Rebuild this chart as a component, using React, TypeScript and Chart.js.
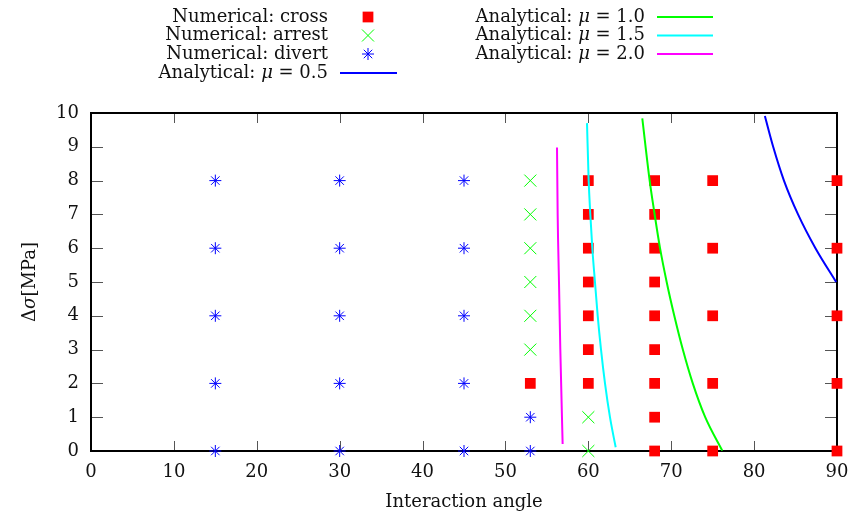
import React, { useEffect, useRef } from 'react';
import { Chart, registerables } from 'chart.js';
import { drawPoint } from 'chart.js/helpers';

Chart.register(...registerables);

const FONT = '"DejaVu Serif", "Liberation Serif", serif';
const FS = 18;

// Tick values
const xTicks = [0, 10, 20, 30, 40, 50, 60, 70, 80, 90];
const yTicks = [0, 1, 2, 3, 4, 5, 6, 7, 8, 9, 10];

// Numerical results: [interaction angle, delta sigma]
const crossPts: number[][] = [
  [53, 2],
  [60, 2], [60, 3], [60, 4], [60, 5], [60, 6], [60, 7], [60, 8],
  [68, 0], [68, 1], [68, 2], [68, 3], [68, 4], [68, 5], [68, 6], [68, 7], [68, 8],
  [75, 0], [75, 2], [75, 4], [75, 6], [75, 8],
  [90, 0], [90, 2], [90, 4], [90, 6], [90, 8],
];
const arrestPts: number[][] = [
  [53, 3], [53, 4], [53, 5], [53, 6], [53, 7], [53, 8],
  [60, 0], [60, 1],
];
const divertPts: number[][] = [
  [15, 0], [15, 2], [15, 4], [15, 6], [15, 8],
  [30, 0], [30, 2], [30, 4], [30, 6], [30, 8],
  [45, 0], [45, 2], [45, 4], [45, 6], [45, 8],
  [53, 0], [53, 1],
];

// Analytical curves
const mu05: number[][] = [[81.3, 9.91], [82.3, 9], [83.6, 8], [85.3, 7], [87.4, 6], [89.9, 5]];
const mu10: number[][] = [
  [66.51, 9.84], [67.4, 8], [68.0, 7], [68.65, 6], [69.45, 5],
  [70.37, 4], [71.4, 3], [72.6, 2], [74.1, 1], [76.16, 0.01],
];
const mu15: number[][] = [
  [59.84, 9.7], [60.04, 8], [60.24, 7], [60.48, 6], [60.8, 5],
  [61.13, 4], [61.53, 3], [62.01, 2], [62.61, 1], [63.3, 0.11],
];
const mu20: number[][] = [[56.22, 8.98], [56.3, 7], [56.46, 5], [56.62, 3], [56.9, 0.21]];

// Legend labels
const pointLabels = ['Numerical: cross', 'Numerical: arrest', 'Numerical: divert'];
const muValues = ['0.5', '1.0', '1.5', '2.0'];
const xTitle = 'Interaction angle';

const RED = '#ff0000';
const GREEN = '#00ff00';
const BLUE = '#0000ff';
const CYAN = '#00ffff';
const MAGENTA = '#ff00ff';

const toXY = (a: number[][]) => a.map(([x, y]) => ({ x, y }));

const curve = (data: number[][], color: string) => ({
  type: 'scatter' as const,
  data: toXY(data),
  showLine: true,
  borderColor: color,
  backgroundColor: color,
  borderWidth: 2,
  pointRadius: 0,
  cubicInterpolationMode: 'monotone',
  clip: false,
});

type Part = { t: string; it?: boolean };

function drawParts(ctx: CanvasRenderingContext2D, parts: Part[], right: number, y: number) {
  const fontN = `${FS}px ${FONT}`;
  const fontI = `italic ${FS}px ${FONT}`;
  let total = 0;
  for (const p of parts) {
    ctx.font = p.it ? fontI : fontN;
    total += ctx.measureText(p.t).width;
  }
  let x = right - total;
  ctx.textAlign = 'left';
  ctx.textBaseline = 'middle';
  for (const p of parts) {
    ctx.font = p.it ? fontI : fontN;
    ctx.fillText(p.t, x, y);
    x += ctx.measureText(p.t).width;
  }
}

const framePlugin = {
  id: 'frame',
  beforeDatasetsDraw(chart: any) {
    const { ctx, chartArea: a, scales } = chart;
    ctx.save();
    ctx.strokeStyle = '#555';
    ctx.lineWidth = 1;
    ctx.beginPath();
    for (const v of xTicks) {
      const px = Math.round(scales.x.getPixelForValue(v)) + 0.5;
      ctx.moveTo(px, a.bottom);
      ctx.lineTo(px, a.bottom - 10);
      ctx.moveTo(px, a.top);
      ctx.lineTo(px, a.top + 10);
    }
    for (const v of yTicks) {
      const py = Math.round(scales.y.getPixelForValue(v)) + 0.5;
      ctx.moveTo(a.left, py);
      ctx.lineTo(a.left + 12, py);
      ctx.moveTo(a.right, py);
      ctx.lineTo(a.right - 12, py);
    }
    ctx.stroke();
    ctx.strokeStyle = '#000';
    ctx.lineWidth = 2;
    ctx.strokeRect(a.left, a.top, a.right - a.left, a.bottom - a.top);
    ctx.restore();
  },
  afterDraw(chart: any) {
    const { ctx, chartArea: a } = chart;
    ctx.save();
    ctx.fillStyle = '#111';
    // axis titles
    ctx.font = `${FS}px ${FONT}`;
    ctx.textAlign = 'center';
    ctx.textBaseline = 'middle';
    ctx.fillText(xTitle, (a.left + a.right) / 2, 502);
    const yParts: Part[] = [{ t: 'Δ' }, { t: 'σ', it: true }, { t: '[MPa]' }];
    let w = 0;
    for (const p of yParts) {
      ctx.font = p.it ? `italic ${FS}px ${FONT}` : `${FS}px ${FONT}`;
      w += ctx.measureText(p.t).width;
    }
    ctx.save();
    ctx.translate(30, (a.top + a.bottom) / 2);
    ctx.rotate(-Math.PI / 2);
    drawParts(ctx, yParts, w / 2, 0);
    ctx.restore();

    // legend
    const rows = [17, 35.5, 54, 73];
    const col1R = 328;
    const col2R = 645;
    const markStyles = [
      { pointStyle: 'rect', radius: 7.6, color: RED, fill: true },
      { pointStyle: 'crossRot', radius: 8.5, color: GREEN, fill: false },
      { pointStyle: 'star', radius: 6, color: BLUE, fill: false },
    ];
    for (let i = 0; i < 3; i++) {
      ctx.fillStyle = '#111';
      drawParts(ctx, [{ t: pointLabels[i] }], col1R, rows[i]);
      const m = markStyles[i];
      ctx.fillStyle = m.color;
      ctx.strokeStyle = m.color;
      ctx.lineWidth = 1;
      drawPoint(ctx, { pointStyle: m.pointStyle as any, radius: m.radius, rotation: 0, borderWidth: m.fill ? 0 : 1 }, 368, rows[i]);
    }
    const lineCols = [BLUE, GREEN, CYAN, MAGENTA];
    const pos = [
      { r: col1R, y: rows[3], x0: 340, x1: 397 },
      { r: col2R, y: rows[0], x0: 657, x1: 713 },
      { r: col2R, y: rows[1], x0: 657, x1: 713 },
      { r: col2R, y: rows[2], x0: 657, x1: 713 },
    ];
    for (let i = 0; i < 4; i++) {
      const p = pos[i];
      ctx.fillStyle = '#111';
      drawParts(ctx, [{ t: 'Analytical: ' }, { t: 'μ', it: true }, { t: ' = ' + muValues[i] }], p.r, p.y);
      ctx.strokeStyle = lineCols[i];
      ctx.lineWidth = 2;
      ctx.beginPath();
      ctx.moveTo(p.x0, p.y);
      ctx.lineTo(p.x1, p.y);
      ctx.stroke();
    }
    ctx.restore();
  },
};

export default function App() {
  const ref = useRef<HTMLCanvasElement | null>(null);
  useEffect(() => {
    if (!ref.current) return;
    const chart = new Chart(ref.current, {
      type: 'scatter',
      data: {
        datasets: [
          curve(mu05, BLUE),
          curve(mu10, GREEN),
          curve(mu15, CYAN),
          curve(mu20, MAGENTA),
          {
            data: toXY(divertPts),
            pointStyle: 'star',
            pointRadius: 6,
            borderColor: BLUE,
            backgroundColor: BLUE,
            borderWidth: 1,
            clip: false,
          } as any,
          {
            data: toXY(arrestPts),
            pointStyle: 'crossRot',
            pointRadius: 8.5,
            borderColor: GREEN,
            backgroundColor: GREEN,
            borderWidth: 1,
            clip: false,
          } as any,
          {
            data: toXY(crossPts),
            pointStyle: 'rect',
            pointRadius: 7.6,
            borderWidth: 0,
            borderColor: RED,
            backgroundColor: RED,
            clip: false,
          } as any,
        ],
      },
      options: {
        responsive: false,
        animation: false,
        devicePixelRatio: 1,
        layout: { padding: { top: 113, right: 25, left: 0, bottom: 0 } },
        plugins: { legend: { display: false }, tooltip: { enabled: false } },
        scales: {
          x: {
            type: 'linear',
            min: 0,
            max: 90,
            grid: { display: false, drawTicks: false },
            border: { display: false },
            ticks: { font: { family: FONT, size: FS }, color: '#111', padding: 11, maxRotation: 0, autoSkip: false },
            afterBuildTicks: (s: any) => { s.ticks = xTicks.map((v) => ({ value: v })); },
            afterFit: (s: any) => { s.height = 65; },
          },
          y: {
            type: 'linear',
            min: 0,
            max: 10,
            grid: { display: false, drawTicks: false },
            border: { display: false },
            ticks: { font: { family: FONT, size: FS }, color: '#111', padding: 12, autoSkip: false },
            afterBuildTicks: (s: any) => { s.ticks = yTicks.map((v) => ({ value: v })); },
            afterFit: (s: any) => { s.width = 91; },
          },
        },
      },
      plugins: [framePlugin],
    } as any);
    return () => chart.destroy();
  }, []);
  return (
    <div style={{ position: 'absolute', left: 0, top: 0, width: 862, height: 516 }}>
      <canvas ref={ref} width={862} height={516} style={{ display: 'block' }} />
    </div>
  );
}
